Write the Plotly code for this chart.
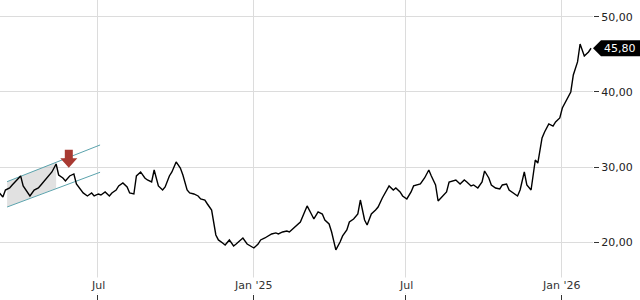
import pandas as pd
import plotly.graph_objects as go

# ---- data ----
close = [
    26.69, 26.02, 26.95, 27.22, 27.62, 28.28, 28.82, 27.49, 26.56, 26.16,
    26.95, 27.22, 27.62, 28.28, 28.68, 29.35, 30.41, 28.95, 28.55, 28.15,
    28.82, 29.08, 27.75, 26.95, 26.56, 26.16, 26.56, 26.16, 26.42, 26.29,
    26.69, 26.16, 26.56, 26.95, 27.49, 27.88, 27.35, 26.56, 26.42, 28.82,
    29.35, 28.55, 28.28, 28.02, 29.61, 27.49, 26.95, 27.35, 28.82, 29.35,
    30.68, 29.88, 28.95, 26.95, 26.56, 26.42, 26.16, 25.76, 25.62, 25.09,
    24.29, 20.97, 20.31, 19.91, 19.64, 20.31, 19.51, 19.77, 20.31, 20.57,
    19.77, 19.37, 19.24, 19.77, 20.31, 20.57, 20.84, 21.10, 21.24, 21.10,
    21.37, 21.50, 21.37, 21.90, 22.17, 22.70, 24.03, 24.83, 23.76, 23.10,
    24.03, 23.76, 22.96, 22.43, 21.37, 18.98, 20.04, 20.84, 21.63, 22.70,
    23.10, 23.76, 25.62, 22.96, 22.30, 23.76, 24.29, 24.69, 25.89, 26.42,
    27.49, 26.95, 27.22, 26.69, 26.16, 25.76, 26.69, 27.49, 27.62, 27.75,
    28.55, 29.61, 28.82, 27.62, 25.49, 26.16, 26.69, 28.02, 28.15, 28.28,
    27.75, 28.28, 28.02, 27.49, 27.62, 27.22, 28.02, 29.48, 28.55, 27.62,
    27.22, 27.09, 27.62, 27.75, 26.95, 26.56, 26.16, 26.95, 29.35, 27.62,
    26.95, 30.94, 30.54, 33.87, 34.67, 35.73, 35.46, 36.00, 36.53, 37.86,
    38.92, 39.99, 42.25, 43.98, 46.37, 44.77, 45.31, 45.80,
]
dates = pd.date_range(end="2026-02-05", periods=len(close), freq="3B")

# trend channel drawn on the chart
channel_dates = ["2024-03-16", "2024-07-04"]
channel_upper = [28.06, 32.94]
channel_lower = [24.69, 29.31]
fill_dates = ["2024-03-16", "2024-05-13"]
fill_upper = [28.06, 30.68]
fill_lower = [24.69, 27.17]

signal_date = "2024-05-28"
signal_price = 29.9

x_tick_dates = ["2024-07-01", "2025-01-01", "2025-07-01", "2026-01-01"]
x_tick_labels = ["Jul", "Jan '25", "Jul", "Jan '26"]
y_ticks = [20, 30, 40, 50]

FONT = "DejaVu Sans"
TEAL = "#5ba3ad"

fig = go.Figure()

# gray channel fill
fig.add_trace(go.Scatter(
    x=[fill_dates[0], fill_dates[1], fill_dates[1], fill_dates[0]],
    y=[fill_upper[0], fill_upper[1], fill_lower[1], fill_lower[0]],
    fill="toself", fillcolor="rgba(200,200,200,0.55)",
    line=dict(width=0), mode="lines", hoverinfo="skip"))

for ys in (channel_upper, channel_lower):
    fig.add_trace(go.Scatter(x=channel_dates, y=ys, mode="lines",
                             line=dict(color=TEAL, width=1), hoverinfo="skip"))

fig.add_trace(go.Scatter(x=dates, y=close, mode="lines",
                         line=dict(color="black", width=1.4)))

# red down arrow (signal)
fig.add_shape(type="path", xref="x", yref="y",
              xsizemode="pixel", ysizemode="pixel",
              xanchor=signal_date, yanchor=signal_price,
              path="M 0,0 L -8.5,9.5 L -4,9.5 L -4,18 L 4,18 L 4,9.5 L 8.5,9.5 Z",
              fillcolor="#a83a32", line=dict(width=0))

# last price tag
last = close[-1]
fig.add_shape(type="path", xref="paper", yref="y",
              xsizemode="pixel", ysizemode="pixel",
              xanchor=1, yanchor=last,
              path="M 0,0 L 8,8 L 47,8 L 47,-8 L 8,-8 Z",
              fillcolor="black", line=dict(width=0))
fig.add_annotation(x=1, xref="paper", y=last, yref="y", xanchor="left",
                   yanchor="middle", xshift=9, showarrow=False,
                   text=f"{last:.2f}".replace(".", ","),
                   font=dict(family=FONT, size=11, color="white"))

# x tick labels with white background (sit over the grid lines)
for d, t in zip(x_tick_dates, x_tick_labels):
    fig.add_annotation(x=d, xref="x", y=0, yref="paper", yanchor="bottom",
                       xanchor="center", showarrow=False, text=t,
                       bgcolor="white", borderpad=1,
                       font=dict(family=FONT, size=11, color="#333"))

fig.update_layout(
    width=640, height=300,
    margin=dict(l=0, r=47, t=0, b=6),
    plot_bgcolor="white", paper_bgcolor="white",
    showlegend=False, separators=",.",
    font=dict(family=FONT, size=11, color="#333"),
)
fig.update_xaxes(
    type="date", range=["2024-03-07 14:00", "2026-02-07 07:00"],
    tickvals=x_tick_dates, showticklabels=False,
    ticks="outside", ticklen=6, tickcolor="#333",
    showgrid=True, gridcolor="#dcdcdc", gridwidth=1,
    zeroline=False, showline=False,
)
fig.update_yaxes(
    side="right", range=[13.12, 52.22],
    tickvals=y_ticks, tickformat=".2f",
    ticks="outside", ticklen=5, tickcolor="#333",
    tickfont=dict(family=FONT, size=11, color="#222"),
    showgrid=True, gridcolor="#dcdcdc", gridwidth=1,
    zeroline=False, showline=False,
)

fig.write_html("out.html")
